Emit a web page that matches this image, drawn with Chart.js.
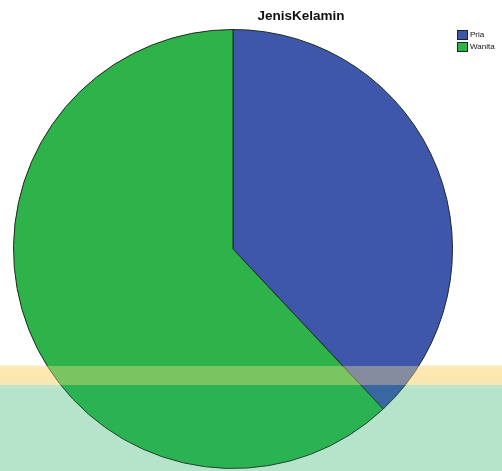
<!DOCTYPE html>
<html>
<head>
<meta charset="utf-8">
<script src="https://cdn.jsdelivr.net/npm/chart.js@4"></script>
<style>
  body { margin: 0; }
  #wrap {
    position: relative; width: 502px; height: 471px; overflow: hidden;
    background: linear-gradient(to bottom,
      #ffffff 0px, #ffffff 365px,
      #fdf3dc 365px, #fdf3dc 368px,
      #fdebc9 368px, #fdebc9 383px,
      #e6efd8 383px, #e6efd8 388px,
      #d6efdc 388px, #d6efdc 471px);
  }
  #chart { position: absolute; left: 0; top: 0; }
  #title {
    position: absolute; left: 251px; width: 100px; top: 8px; text-align: center;
    font: bold 13.5px "Liberation Sans", Arial, sans-serif; color: #111;
  }
  #legend {
    position: absolute; left: 457px; top: 29px;
    font: 8px "Liberation Sans", Arial, sans-serif; color: #111;
  }
  .item { display: flex; align-items: center; height: 11px; margin-bottom: 1px; }
  .box { width: 9px; height: 8px; border: 1px solid #222; margin-right: 2px; }
</style>
</head>
<body>
<div id="wrap">
  <canvas id="chart" width="502" height="471"></canvas>
  <div id="title">JenisKelamin</div>
  <div id="legend"></div>
</div>
<script>
const categories = ['Pria', 'Wanita'];
const counts = [38, 62];
const sliceColors = ['#3e57ab', '#2db34a'];

// legend
const legend = document.getElementById('legend');
categories.forEach((c, i) => {
    const item = document.createElement('div');
    item.className = 'item';
    item.innerHTML = '<span class="box" style="background:' + sliceColors[i] + '"></span>' + c;
    legend.appendChild(item);
});

// the washed-out bands over the lower part of the screenshot
const bandsPlugin = {
    id: 'bands',
    afterDatasetsDraw(chart) {
        const ctx = chart.ctx;
        ctx.save();
        ctx.fillStyle = 'rgba(250,225,140,0.38)';
        ctx.fillRect(0, 366, chart.width, 19);
        ctx.fillStyle = 'rgba(40,180,120,0.18)';
        ctx.fillRect(0, 385, chart.width, chart.height - 385);
        ctx.restore();
    }
};

new Chart(document.getElementById('chart'), {
    type: 'pie',
    data: {
        labels: categories,
        datasets: [{
            data: counts,
            backgroundColor: sliceColors,
            borderColor: '#1f2a1f',
            borderWidth: 1
        }]
    },
    options: {
        responsive: false,
        animation: false,
        layout: { padding: { left: 13, right: 49, top: 29, bottom: 2 } },
        plugins: {
            legend: { display: false },
            title: { display: false },
            tooltip: { enabled: false }
        }
    },
    plugins: [bandsPlugin]
});
</script>
</body>
</html>
